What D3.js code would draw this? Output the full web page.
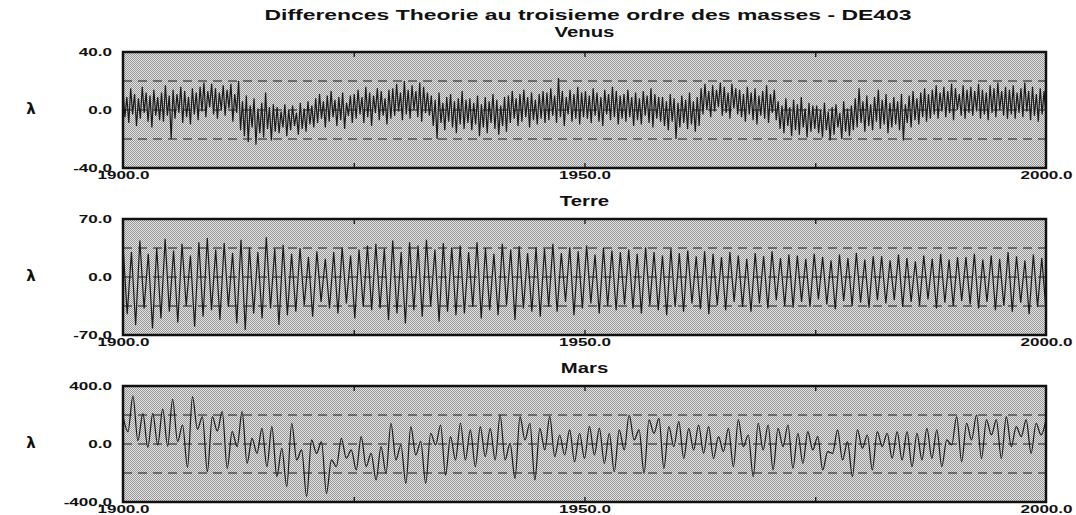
<!DOCTYPE html>
<html>
<head>
<meta charset="utf-8">
<style>
    body { margin: 0; background-color: #fff; }
    svg text { font-family: "Liberation Sans", Arial, sans-serif; fill: #111; font-weight: bold; }
    .frame { fill: none; stroke: #111; stroke-width: 2.5; }
    .dash { stroke: #1a1a1a; stroke-width: 1.1; stroke-dasharray: 9,6; }
    .trace { fill: none; stroke: #1a1a1a; stroke-width: 1.2; }
</style>
</head>
<body>
<svg id="chart" width="1076" height="515"></svg>
<script src="https://cdn.jsdelivr.net/npm/d3@7"></script>
<script>
    const titleText = "Differences Theorie au troisieme ordre des masses - DE403"
    const panelNames = ["Venus", "Terre", "Mars"]
    const yLimits = [40, 70, 400]
    const dashLevels = [20, 35, 200]
    const xLabels = [1900, 1950, 2000]
    const xMinorTicks = [1925, 1950, 1975]
    const yearRange = [1900, 2000]

    // Venus: top and bottom of each oscillation
    const venusHigh = [
        13,9,15,11,8,16,12,10,14,9,
        12,17,10,14,11,16,13,9,15,12,
        16,19,13,18,15,12,17,14,18,11,
        20,6,10,3,8,1,5,12,2,4,
        2,-1,4,0,3,-2,5,1,6,3,
        8,11,6,10,13,7,9,12,5,10,
        11,14,9,16,12,10,15,13,8,14,
        15,18,12,20,14,17,13,19,16,12,
        10,7,12,5,9,11,6,8,13,7,
        8,5,10,4,9,6,11,7,3,9,
        10,13,8,11,14,9,12,7,11,13,
        12,15,10,22,13,9,14,11,16,12,
        13,10,15,12,9,14,11,16,13,10,
        11,14,9,12,8,13,10,15,11,9,
        9,6,11,8,5,10,7,12,6,9,
        15,18,13,17,14,19,16,12,18,15,
        14,11,16,12,15,10,13,17,11,14,
        6,3,8,2,7,4,9,1,5,3,
        3,0,5,-1,2,4,-2,6,1,3,
        8,15,6,10,4,9,14,7,11,5,
        9,6,11,4,10,13,8,12,15,11,
        14,17,12,16,13,18,15,11,17,14,
        16,13,18,14,12,17,15,19,13,16,
        14,17,12,15,19,13,16,11,15,13]
    const venusLow = [
        -5,-9,-3,-11,-6,-2,-8,-12,-4,-7,
        -8,-4,-20,-6,-2,-9,-5,-10,-3,-7,
        -1,-5,2,-3,-6,0,-4,1,-8,-2,
        -14,-18,-22,-12,-24,-16,-19,-13,-21,-15,
        -16,-12,-18,-14,-11,-17,-13,-15,-10,-12,
        -9,-6,-12,-8,-5,-11,-7,-13,-4,-9,
        -6,-3,-9,-5,-11,-2,-7,-4,-10,-6,
        -4,-1,-7,-3,-6,0,-5,-8,-2,-4,
        -11,-20,-9,-14,-8,-12,-16,-10,-13,-9,
        -14,-10,-18,-12,-16,-9,-13,-17,-11,-15,
        -9,-6,-11,-8,-5,-12,-7,-10,-6,-9,
        -7,-4,-9,-5,-11,-3,-8,-6,-10,-5,
        -6,-9,-4,-8,-11,-3,-7,-5,-10,-6,
        -8,-5,-11,-7,-10,-4,-9,-12,-6,-8,
        -11,-14,-8,-20,-12,-9,-13,-10,-15,-11,
        -3,0,-5,-1,2,-4,-2,-6,1,-3,
        -5,-8,-3,-7,-10,-4,-6,-9,-2,-7,
        -13,-16,-11,-18,-14,-17,-12,-19,-15,-13,
        -16,-19,-14,-21,-17,-12,-20,-15,-18,-14,
        -12,-9,-15,-11,-14,-8,-13,-10,-16,-12,
        -10,-14,-21,-9,-12,-7,-10,-5,-8,-6,
        -3,-6,-1,-5,-2,-7,0,-4,-6,-2,
        -4,-1,-6,-3,-7,-2,-5,0,-4,-6,
        -3,-6,-2,-5,-1,-7,-4,-8,-3,-5]

    // Terre
    const terreHigh = [
        38,30,44,28,35,46,32,40,26,42,
        47,33,41,29,45,36,30,48,34,39,
        28,35,24,31,22,30,36,26,33,38,
        40,34,44,30,42,38,45,33,41,36,
        38,30,42,35,28,40,33,37,29,36,
        34,40,29,36,31,38,27,35,32,30,
        33,28,36,30,26,34,29,32,25,31,
        28,24,30,26,22,29,25,31,23,27,
        26,22,28,24,20,27,23,29,21,25,
        25,20,27,23,19,26,22,28,21,24,
        24,28,21,26,22,30,25,20,27,23]
    const terreLow = [
        -45,-58,-38,-62,-50,-42,-55,-35,-60,-48,
        -40,-52,-36,-56,-64,-44,-50,-38,-58,-46,
        -42,-34,-48,-30,-38,-44,-32,-50,-36,-40,
        -38,-52,-44,-56,-40,-48,-35,-54,-42,-46,
        -44,-36,-50,-40,-46,-34,-52,-38,-42,-48,
        -36,-42,-30,-46,-38,-32,-44,-35,-40,-33,
        -38,-44,-34,-40,-46,-36,-42,-32,-39,-45,
        -34,-40,-30,-36,-42,-32,-38,-28,-35,-37,
        -30,-36,-27,-33,-39,-29,-35,-31,-37,-28,
        -32,-28,-36,-30,-34,-27,-38,-31,-35,-29,
        -33,-38,-30,-40,-35,-42,-31,-45,-36,-40]

    // Mars: successive peaks and troughs
    const marsExtrema = [
        190,85,330,23,210,-23,210,-7,240,-14,
        308,16,131,-161,327,101,189,-191,189,90,
        223,-168,85,-18,223,-133,39,-64,108,-156,
        120,-225,-30,-294,143,-110,-41,-363,28,-64,
        16,-340,-110,-156,39,-99,-41,-179,51,-156,
        -64,-248,-18,-202,143,-110,-7,-271,120,
        -76,16,-271,74,-7,131,-214,51,-110,143,
        -110,97,-156,120,-87,108,-110,200,-110,5,
        -237,189,28,143,-248,108,-41,189,-87,62,
        -76,97,-122,74,-99,120,-76,108,-133,74,
        -191,97,-41,200,28,97,-202,166,74,177,
        -168,120,-18,154,-99,108,-41,131,-64,120,
        -99,51,-53,108,-156,166,-18,62,-225,
        143,-41,131,-179,108,-18,131,-168,74,-133,
        85,-41,51,-179,-53,-64,97,-110,16,-225,
        97,-30,62,-179,85,-18,74,-99,85,-110,
        85,-156,74,-110,108,-99,97,-156,28,-7,
        189,-122,143,28,200,-99,166,62,166,-99,
        189,-18,120,51,166,-64,143,62,166]

    function interleave(high, low) {
        let out = []
        high.forEach((h, i) => { out.push(h); out.push(low[i]) })
        return out
    }

    const series = [interleave(venusHigh, venusLow), interleave(terreHigh, terreLow), marsExtrema]

    let svg = d3.select("#chart")
    let plotLeft = 123, plotRight = 1046, plotHeight = 116
    let panelTops = [52, 219, 386]
    let nameOffsets = [15, 13, 13]

    let xScale = d3.scaleLinear().domain(yearRange).range([plotLeft, plotRight])

    let defs = svg.append("defs")
    let pat = defs.append("pattern")
        .attr("id", "stipple")
        .attr("width", 2).attr("height", 2)
        .attr("patternUnits", "userSpaceOnUse")
    pat.append("rect").attr("width", 2).attr("height", 2).attr("fill", "#e4e4e4")
    pat.append("rect").attr("width", 1).attr("height", 1).attr("fill", "#969696")
    pat.append("rect").attr("x", 1).attr("y", 1).attr("width", 1).attr("height", 1).attr("fill", "#969696")

    // widen the letters, the original font is an extended one
    function stretch(sel, k) {
        sel.each(function() {
            let w = this.getComputedTextLength()
            d3.select(this).attr("textLength", w * k).attr("lengthAdjust", "spacingAndGlyphs")
        })
    }

    svg.append("text")
        .attr("x", 588).attr("y", 20)
        .attr("text-anchor", "middle")
        .style("font-size", "15px")
        .attr("textLength", 647).attr("lengthAdjust", "spacingAndGlyphs")
        .text(titleText)

    panelNames.forEach((name, p) => {
        let top = panelTops[p]
        let bottom = top + plotHeight
        let lim = yLimits[p]
        let yScale = d3.scaleLinear().domain([-lim, lim]).range([bottom, top])

        defs.append("clipPath").attr("id", "clip" + p)
            .append("rect")
            .attr("x", plotLeft).attr("y", top)
            .attr("width", plotRight - plotLeft).attr("height", plotHeight)

        let g = svg.append("g")

        g.append("rect")
            .attr("x", plotLeft).attr("y", top)
            .attr("width", plotRight - plotLeft).attr("height", plotHeight)
            .attr("fill", "url(#stipple)")

        g.selectAll(".dash")
            .data([dashLevels[p], 0, -dashLevels[p]])
            .enter()
            .append("line")
            .attr("class", "dash")
            .attr("x1", plotLeft).attr("x2", plotRight)
            .attr("y1", d => yScale(d)).attr("y2", d => yScale(d))

        let values = series[p]
        let step = (yearRange[1] - yearRange[0]) / (values.length - 1)
        let pts = values.map((v, i) => ({ year: yearRange[0] + i * step, v: v }))

        let line = d3.line()
            .x(d => xScale(d.year))
            .y(d => yScale(d.v))
        if (p == 2) line.curve(d3.curveMonotoneX)

        g.append("path")
            .datum(pts)
            .attr("class", "trace")
            .attr("clip-path", "url(#clip" + p + ")")
            .attr("d", line)

        g.append("rect")
            .attr("class", "frame")
            .attr("x", plotLeft).attr("y", top)
            .attr("width", plotRight - plotLeft).attr("height", plotHeight)

        // small inside ticks on top and bottom edge
        let tb = g.append("g")
            .attr("transform", "translate(0," + bottom + ")")
            .call(d3.axisBottom(xScale).tickValues(xMinorTicks).tickSize(-5).tickFormat(""))
        let tt = g.append("g")
            .attr("transform", "translate(0," + top + ")")
            .call(d3.axisTop(xScale).tickValues(xMinorTicks).tickSize(-5).tickFormat(""))
        tb.select(".domain").remove()
        tt.select(".domain").remove()
        g.selectAll(".tick line").attr("stroke", "#111").attr("stroke-width", 1.3)

        let xa = g.append("g")
            .attr("transform", "translate(0," + bottom + ")")
            .call(d3.axisBottom(xScale).tickValues(xLabels).tickSize(0).tickPadding(3)
                .tickFormat(d => d.toFixed(1)))
        xa.select(".domain").remove()
        xa.selectAll("text").style("font-size", "11px").attr("fill", "#111")
        stretch(xa.selectAll("text"), 1.55)

        let ya = g.append("g")
            .attr("transform", "translate(" + plotLeft + ",0)")
            .call(d3.axisLeft(yScale).tickValues([-lim, 0, lim]).tickSize(0).tickPadding(11)
                .tickFormat(d => d.toFixed(1)))
        ya.select(".domain").remove()
        ya.selectAll("text").style("font-size", "11px").attr("fill", "#111")
        stretch(ya.selectAll("text"), 1.55)

        let sub = g.append("text")
            .attr("x", (plotLeft + plotRight) / 2).attr("y", top - nameOffsets[p])
            .attr("text-anchor", "middle")
            .style("font-size", "14px")
            .text(name)
        stretch(sub, 1.45)

        g.append("text")
            .attr("x", 31).attr("y", yScale(0) + 4)
            .attr("text-anchor", "middle")
            .style("font-family", "DejaVu Sans")
            .style("font-size", "15px")
            .text("λ")
    })
</script>
</body>
</html>
